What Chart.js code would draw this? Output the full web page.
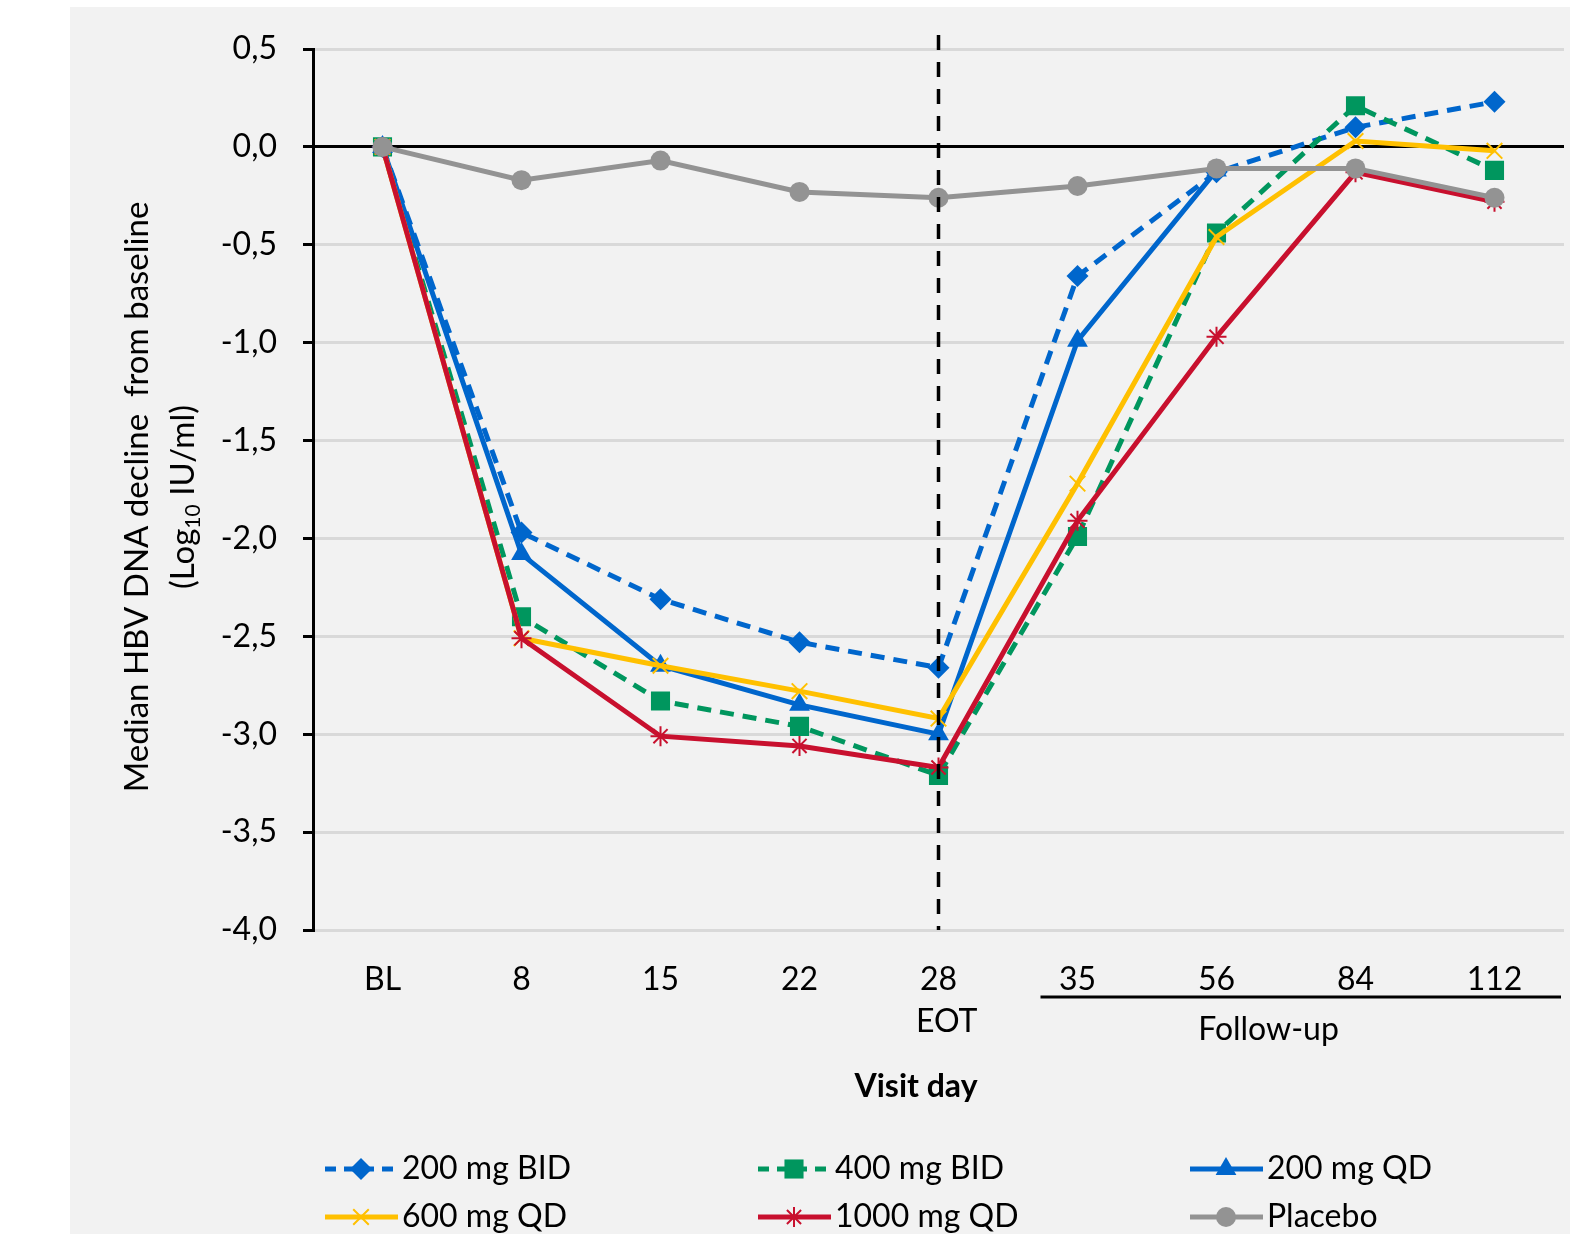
<!DOCTYPE html>
<html>
<head>
<meta charset="utf-8">
<script src="https://cdn.jsdelivr.net/npm/chart.js@4.4.1/dist/chart.umd.min.js"></script>
<style>
  html, body { margin: 0; padding: 0; background: #fff; }
</style>
</head>
<body>
<canvas id="chart" width="1570" height="1234"></canvas>
<script>
// visit days (x categories)
const visitDays = ['BL', '8', '15', '22', ['28', '  EOT'], '35', '56', '84', '112'];

// median HBV DNA decline from baseline, log10 IU/ml
const bid200 = [0, -1.97, -2.31, -2.53, -2.66, -0.66, -0.13, 0.10, 0.23];
const bid400 = [0, -2.40, -2.83, -2.96, -3.21, -1.99, -0.44, 0.21, -0.12];
const qd200 = [0, -2.08, -2.65, -2.85, -3.00, -0.99, -0.12, null, null];
const qd600 = [0, -2.51, -2.65, -2.78, -2.92, -1.72, -0.46, 0.03, -0.02];
const qd1000 = [0, -2.51, -3.01, -3.06, -3.17, -1.91, -0.97, -0.13, -0.28];
const placebo = [0, -0.17, -0.07, -0.23, -0.26, -0.20, -0.11, -0.11, -0.26];

const yMin = -4, yMax = 0.5, yStep = 0.5;

const FONT = 'Lato, "Open Sans", sans-serif';
const BLUE = '#0066cc', GREEN = '#00965e', YELLOW = '#ffc000', RED = '#c8102e', GRAY = '#939393';

function makeSet(label, data, color, style, radius, dashed, order, hollow) {
  return {
    label: label,
    data: data,
    borderColor: color,
    backgroundColor: color,
    borderWidth: 5,
    borderDash: dashed ? [14, 9] : [],
    pointStyle: style,
    pointRadius: radius,
    pointBackgroundColor: color,
    pointBorderColor: color,
    pointBorderWidth: hollow ? 2 : 0,
    tension: 0,
    spanGaps: false,
    order: order
  };
}

const datasets = [
  makeSet('200 mg BID', bid200, BLUE, 'rectRot', 11, true, 5, false),
  makeSet('400 mg BID', bid400, GREEN, 'rect', 13.5, true, 4, false),
  makeSet('200 mg QD', qd200, BLUE, 'triangle', 12, false, 3, false),
  makeSet('600 mg QD', qd600, YELLOW, 'crossRot', 11, false, 2, true),
  makeSet('1000 mg QD', qd1000, RED, 'star', 10, false, 1, true),
  makeSet('Placebo', placebo, GRAY, 'circle', 10, false, 0, false)
];

// gray panel behind everything
const backdrop = {
  id: 'backdrop',
  beforeDraw(chart) {
    const ctx = chart.ctx;
    ctx.save();
    ctx.fillStyle = '#ffffff';
    ctx.fillRect(0, 0, chart.width, chart.height);
    ctx.fillStyle = '#f2f2f2';
    ctx.fillRect(70, 7, chart.width - 70, chart.height - 7);
    ctx.restore();
  }
};

function marker(ctx, ds, x, y) {
  ctx.fillStyle = ds.pointBackgroundColor;
  ctx.strokeStyle = ds.pointBorderColor;
  ctx.lineWidth = ds.pointBorderWidth;
  ctx.setLineDash([]);
  Chart.helpers.drawPoint(ctx, {
    pointStyle: ds.pointStyle,
    radius: ds.pointRadius,
    rotation: 0,
    borderWidth: ds.pointBorderWidth
  }, x, y);
}

// EOT dashed line, follow-up bar, titles, legend
const extras = {
  id: 'extras',
  afterDatasetsDraw(chart) {
    const ctx = chart.ctx;
    const xs = chart.scales.x;
    const area = chart.chartArea;
    ctx.save();
    // end of treatment
    const eot = xs.getPixelForValue(4);
    ctx.strokeStyle = '#000';
    ctx.lineWidth = 3.5;
    ctx.setLineDash([15, 12]);
    ctx.beginPath();
    ctx.moveTo(eot, 35);
    ctx.lineTo(eot, area.bottom);
    ctx.stroke();
    ctx.restore();
  },
  afterDraw(chart) {
    const ctx = chart.ctx;
    const xs = chart.scales.x;
    const area = chart.chartArea;
    ctx.save();
    ctx.fillStyle = '#000';
    ctx.strokeStyle = '#000';

    // follow-up bracket
    const fuStart = xs.getPixelForValue(5) - 37;
    ctx.lineWidth = 3;
    ctx.beginPath();
    ctx.moveTo(fuStart, 997);
    ctx.lineTo(area.right - 3, 997);
    ctx.stroke();
    ctx.font = '32px ' + FONT;
    ctx.textAlign = 'center';
    ctx.textBaseline = 'middle';
    ctx.fillText('Follow-up', xs.getPixelForValue(6) + 52, 1030);

    ctx.font = 'bold 32px ' + FONT;
    ctx.fillText('Visit day', 916, 1087);

    // y title
    ctx.save();
    ctx.translate(137, 497);
    ctx.rotate(-Math.PI / 2);
    ctx.font = '33px ' + FONT;
    ctx.textAlign = 'center';
    ctx.fillText('Median HBV DNA decline  from baseline', 0, 0);
    ctx.restore();

    ctx.save();
    ctx.translate(183, 497);
    ctx.rotate(-Math.PI / 2);
    ctx.textAlign = 'left';
    const big = '33px ' + FONT, small = '21px ' + FONT;
    const parts = [['(Log', big, 0], ['10', small, 10], [' IU/ml)', big, 0]];
    let total = 0;
    parts.forEach(p => { ctx.font = p[1]; total += ctx.measureText(p[0]).width; });
    let px = -total / 2;
    parts.forEach(p => {
      ctx.font = p[1];
      ctx.fillText(p[0], px, p[2]);
      px += ctx.measureText(p[0]).width;
    });
    ctx.restore();

    // legend
    const cols = [325, 758, 1190];
    const rows = [1169, 1217];
    chart.data.datasets.forEach((ds, i) => {
      const lx = cols[i % 3];
      const ly = rows[Math.floor(i / 3)];
      ctx.strokeStyle = ds.borderColor;
      ctx.lineWidth = ds.borderWidth;
      ctx.lineCap = 'butt';
      ctx.setLineDash(ds.borderDash.length ? [11, 8] : []);
      ctx.beginPath();
      ctx.moveTo(lx, ly);
      ctx.lineTo(lx + 73, ly);
      ctx.stroke();
      marker(ctx, ds, lx + 36, ly);
      ctx.fillStyle = '#000';
      ctx.font = '32px ' + FONT;
      ctx.textAlign = 'left';
      ctx.textBaseline = 'middle';
      ctx.fillText(ds.label, lx + 77, ly);
    });
    ctx.restore();
  }
};

new Chart(document.getElementById('chart'), {
  type: 'line',
  data: { labels: visitDays, datasets: datasets },
  options: {
    responsive: false,
    animation: false,
    devicePixelRatio: 1,
    layout: { autoPadding: false, padding: { top: 49, right: 6, left: 0, bottom: 0 } },
    plugins: { legend: { display: false }, tooltip: { enabled: false } },
    scales: {
      x: {
        offset: true,
        grid: { display: false, drawTicks: false },
        border: { display: false },
        ticks: {
          color: '#000',
          font: { family: FONT, size: 32, lineHeight: 1.3 },
          padding: 29,
          maxRotation: 0,
          autoSkip: false
        },
        afterFit: s => { s.height = 304; s.paddingLeft = 0; s.paddingRight = 0; }
      },
      y: {
        min: yMin,
        max: yMax,
        ticks: {
          stepSize: yStep,
          color: '#000',
          font: { family: FONT, size: 32 },
          padding: 26,
          callback: v => (Math.abs(v) < 1e-9 ? 0 : v).toFixed(1).replace('.', ',')
        },
        grid: {
          color: c => (c.tick && Math.abs(c.tick.value) < 1e-9) ? '#000' : '#d9d9d9',
          lineWidth: 3,
          tickColor: '#000',
          tickLength: 10,
          tickWidth: 3
        },
        border: { color: '#000', width: 3 },
        afterFit: s => { s.width = 313; }
      }
    }
  },
  plugins: [backdrop, extras]
});
</script>
</body>
</html>
